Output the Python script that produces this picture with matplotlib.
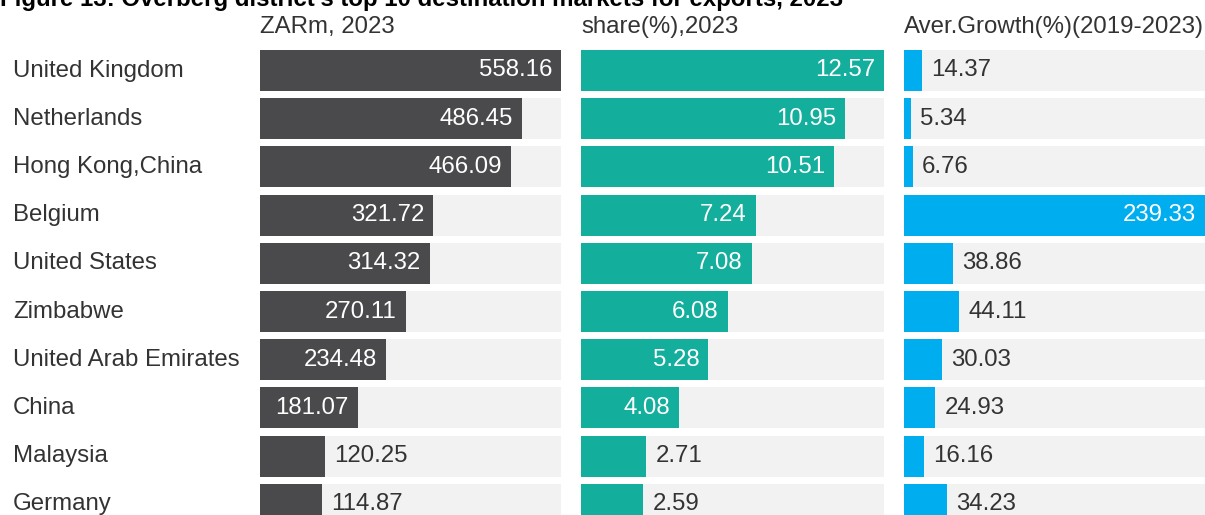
import matplotlib
matplotlib.use("Agg")
import matplotlib.pyplot as plt

countries = ["United Kingdom", "Netherlands", "Hong Kong,China", "Belgium", "United States",
             "Zimbabwe", "United Arab Emirates", "China", "Malaysia", "Germany"]
zar_2023 = [558.16, 486.45, 466.09, 321.72, 314.32, 270.11, 234.48, 181.07, 120.25, 114.87]
share_2023 = [12.57, 10.95, 10.51, 7.24, 7.08, 6.08, 5.28, 4.08, 2.71, 2.59]
growth = [14.37, 5.34, 6.76, 239.33, 38.86, 44.11, 30.03, 24.93, 16.16, 34.23]
headers = ["ZARm, 2023", "share(%),2023", "Aver.Growth(%)(2019-2023)"]
title = "Figure 13: Overberg district's top 10 destination markets for exports, 2023"

W, H = 1205, 515
plt.rcParams['font.family'] = ['Liberation Sans', 'DejaVu Sans']
fig = plt.figure(figsize=(W / 100, H / 100), dpi=100)

panels = [
    (zar_2023, "#4a4a4c", 260, 561),
    (share_2023, "#14ae9c", 581, 884),
    (growth, "#00adef", 904, 1205),
]
pitch = 48.2
top_c = 70.5
ylim = ((H - top_c) / pitch, -top_c / pitch)
fs = 17.3

for (vals, col, x0, x1), hdr in zip(panels, headers):
    ax = fig.add_axes([x0 / W, 0, (x1 - x0) / W, 1])
    vmax = max(vals)
    ax.set_xlim(0, vmax)
    ax.set_ylim(*ylim)
    ax.axis('off')
    ys = list(range(len(vals)))
    ax.barh(ys, [vmax] * len(vals), height=0.85, color="#f2f2f2", zorder=1)
    ax.barh(ys, vals, height=0.85, color=col, zorder=2)
    px = vmax / (x1 - x0)
    for y, v in zip(ys, vals):
        if v / vmax > 0.27:
            ax.text(v - 9 * px, y, f"{v:.2f}", ha='right', va='center', color='white',
                    fontsize=fs, zorder=3)
        else:
            ax.text(v + 9 * px, y, f"{v:.2f}", ha='left', va='center', color='#333333',
                    fontsize=fs, zorder=3)
    fig.text(x0 / W, 1 - 27 / H, hdr, ha='left', va='center', fontsize=fs, color='#333333')

for i, c in enumerate(countries):
    fig.text(13 / W, 1 - (top_c + pitch * i) / H, c, ha='left', va='center',
             fontsize=fs, color='#333333')

fig.text(0, 1 - 6 / H, title, ha='left', va='baseline', fontsize=17.3,
         fontweight='bold', color='black')

fig.savefig("out.png", dpi=100)
